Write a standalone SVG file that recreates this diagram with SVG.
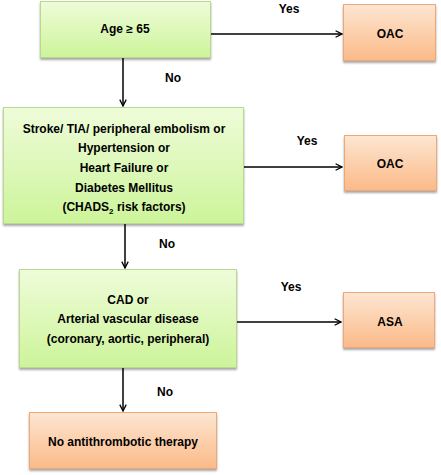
<svg xmlns="http://www.w3.org/2000/svg" width="441" height="475" viewBox="0 0 441 475">
<defs>
<linearGradient id="g" x1="0" y1="0" x2="0" y2="1"><stop offset="0" stop-color="#eefcd9"/><stop offset="1" stop-color="#cdf49a"/></linearGradient>
<linearGradient id="o" x1="0" y1="0" x2="0" y2="1"><stop offset="0" stop-color="#fde6d2"/><stop offset="1" stop-color="#fbba88"/></linearGradient>
<filter id="sh" x="-10%" y="-10%" width="120%" height="130%"><feGaussianBlur in="SourceAlpha" stdDeviation="1.2"/><feOffset dx="0" dy="2"/><feComponentTransfer><feFuncA type="linear" slope="0.35"/></feComponentTransfer><feMerge><feMergeNode/><feMergeNode in="SourceGraphic"/></feMerge></filter>
<marker id="a" viewBox="0 0 10 10" refX="9" refY="5" markerWidth="8" markerHeight="8" markerUnits="userSpaceOnUse" orient="auto"><path d="M1,1 L9,5 L1,9" fill="none" stroke="#000" stroke-width="1.6"/></marker>
</defs>
<style>
.gb{fill:url(#g);stroke:#b9d98e;stroke-width:1;filter:url(#sh)}
.ob{fill:url(#o);stroke:#f0a674;stroke-width:1;filter:url(#sh)}
text{font-family:"Liberation Sans",Arial,sans-serif;font-weight:bold;font-size:12px;fill:#000;text-anchor:middle}
.c line{stroke:#000;stroke-width:1.5;marker-end:url(#a)}
</style>
<rect width="441" height="475" fill="#fff"/>
<g id="n1"><rect class="gb" x="40.5" y="1.5" width="170" height="56"/><text x="125" y="33">Age ≥ 65</text></g>
<g id="n2"><rect class="ob" x="343.5" y="4.5" width="92" height="56"/><text x="390" y="38">OAC</text></g>
<g id="n3"><rect class="gb" x="3.5" y="107.5" width="240" height="116"/>
<text x="124" y="133">Stroke/ TIA/ peripheral embolism or</text>
<text x="124" y="152">Hypertension or</text>
<text x="124" y="172">Heart Failure or</text>
<text x="124" y="192">Diabetes Mellitus</text>
<text x="124" y="211">(CHADS<tspan font-size="8" dy="3">2</tspan><tspan dy="-3"> risk factors)</tspan></text></g>
<g id="n4"><rect class="ob" x="344.5" y="135.5" width="92" height="55"/><text x="390" y="168">OAC</text></g>
<g id="n5"><rect class="gb" x="19.5" y="269.5" width="217" height="98"/>
<text x="128" y="304">CAD or</text>
<text x="128" y="323">Arterial vascular disease</text>
<text x="128" y="343">(coronary, aortic, peripheral)</text></g>
<g id="n6"><rect class="ob" x="343.5" y="292.5" width="91" height="55"/><text x="390" y="326">ASA</text></g>
<g id="n7"><rect class="ob" x="29.5" y="412.5" width="187" height="56"/><text x="123" y="446">No antithrombotic therapy</text></g>
<g class="c">
<line x1="211" y1="34" x2="342" y2="34"/>
<line x1="123" y1="58" x2="123" y2="106"/>
<line x1="244" y1="167" x2="342" y2="167"/>
<line x1="125" y1="224" x2="125" y2="268"/>
<line x1="237" y1="322" x2="341" y2="322"/>
<line x1="123" y1="368" x2="123" y2="411"/>
</g>
<g id="labels">
<text x="289" y="13">Yes</text>
<text x="173" y="82">No</text>
<text x="307" y="145">Yes</text>
<text x="167" y="248">No</text>
<text x="291" y="291">Yes</text>
<text x="165" y="396">No</text>
</g>
</svg>
